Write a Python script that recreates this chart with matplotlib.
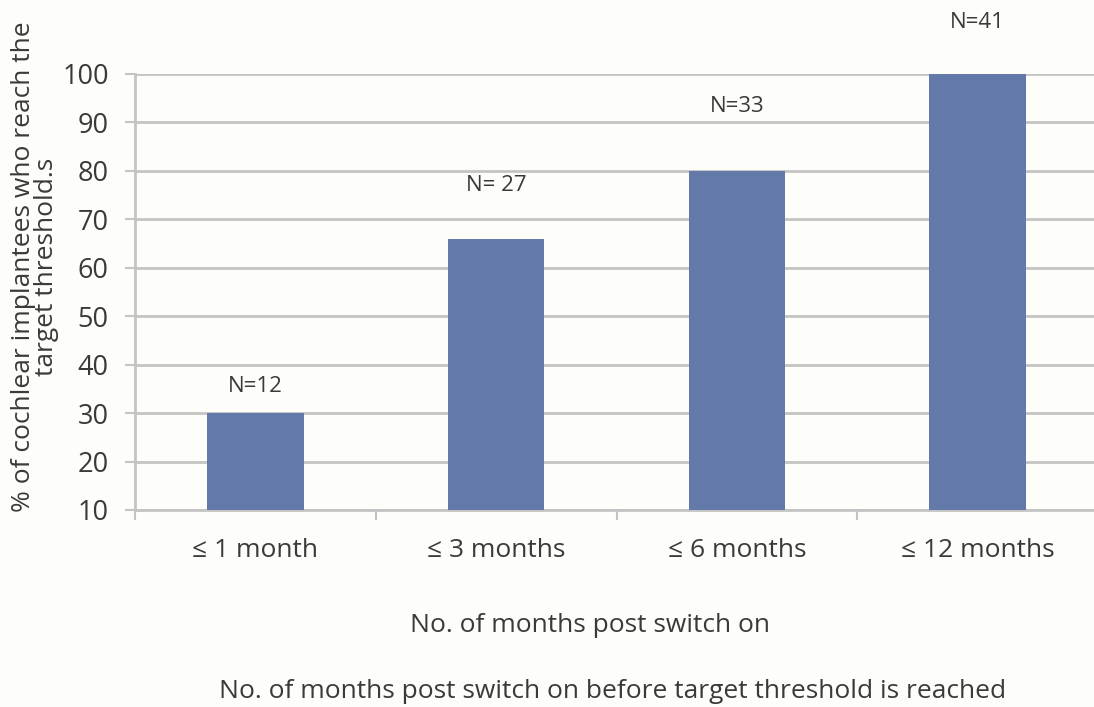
"""Bar chart: share of cochlear implantees reaching target thresholds by months post switch-on."""

import matplotlib.pyplot as plt
import numpy as np

categories = ["≤ 1 month", "≤ 3 months", "≤ 6 months", "≤ 12 months"]
percent_reached = [30, 66, 80, 100]
n_labels = ["N=12", "N= 27", "N=33", "N=41"]
label_offsets_pt = [19, 38, 46, 37]   # label centre height above bar top, points
y_ticks = list(range(10, 101, 10))

BAR_COLOR = "#6379aa"
GRID_COLOR = "#c4c4c4"
TEXT_COLOR = "#3a3a3a"
BG_COLOR = "#fdfdfa"

plt.rcParams["font.family"] = ["Open Sans", "DejaVu Sans"]

fig = plt.figure(figsize=(10.94, 7.07), dpi=100, facecolor=BG_COLOR)
# plot area runs a little past the right edge, so the gridlines reach it
ax = fig.add_axes([135 / 1094, 1 - 510 / 707, 963 / 1094, 436 / 707])
ax.set_facecolor(BG_COLOR)

x = np.arange(len(categories))
ax.bar(x, percent_reached, width=0.4, bottom=0, color=BAR_COLOR, zorder=3)

for xi, val, txt, off in zip(x, percent_reached, n_labels, label_offsets_pt):
    ax.annotate(txt, xy=(xi, val), xytext=(0, off), textcoords="offset points",
                ha="center", va="center", fontsize=16, color=TEXT_COLOR,
                annotation_clip=False)

ax.set_ylim(10, 100)
ax.set_xlim(-0.5, len(categories) - 0.5)
ax.set_yticks(y_ticks)
ax.yaxis.grid(True, color=GRID_COLOR, linewidth=2, zorder=0)
ax.set_axisbelow(True)

# category ticks sit on the boundaries between groups
ax.set_xticks(x)
ax.set_xticklabels(categories, fontsize=19, color=TEXT_COLOR)
ax.set_xticks(np.arange(-0.5, len(categories), 1.0), minor=True)
ax.tick_params(axis="x", which="major", length=0, pad=20)
ax.tick_params(axis="x", which="minor", length=7, width=1.5, color=GRID_COLOR)
ax.tick_params(axis="y", length=7, width=1.5, color=GRID_COLOR,
               labelsize=19.5, labelcolor=TEXT_COLOR, pad=12)

for side in ("top", "right"):
    ax.spines[side].set_visible(False)
for side in ("left", "bottom"):
    ax.spines[side].set_color(GRID_COLOR)
    ax.spines[side].set_linewidth(2)

fig.text(35 / 1094, 1 - 267 / 707,
         "% of cochlear implantees who reach the\ntarget threshold.s",
         rotation=90, ha="center", va="center", fontsize=19, color=TEXT_COLOR,
         linespacing=0.9)
fig.text(590 / 1094, 1 - 626 / 707, "No. of months post switch on",
         ha="center", va="center", fontsize=19, color=TEXT_COLOR)
fig.text(613 / 1094, 1 - 692 / 707,
         "No. of months post switch on before target threshold is reached",
         ha="center", va="center", fontsize=19, color=TEXT_COLOR)

fig.savefig("out.png", dpi=100, facecolor=BG_COLOR)
